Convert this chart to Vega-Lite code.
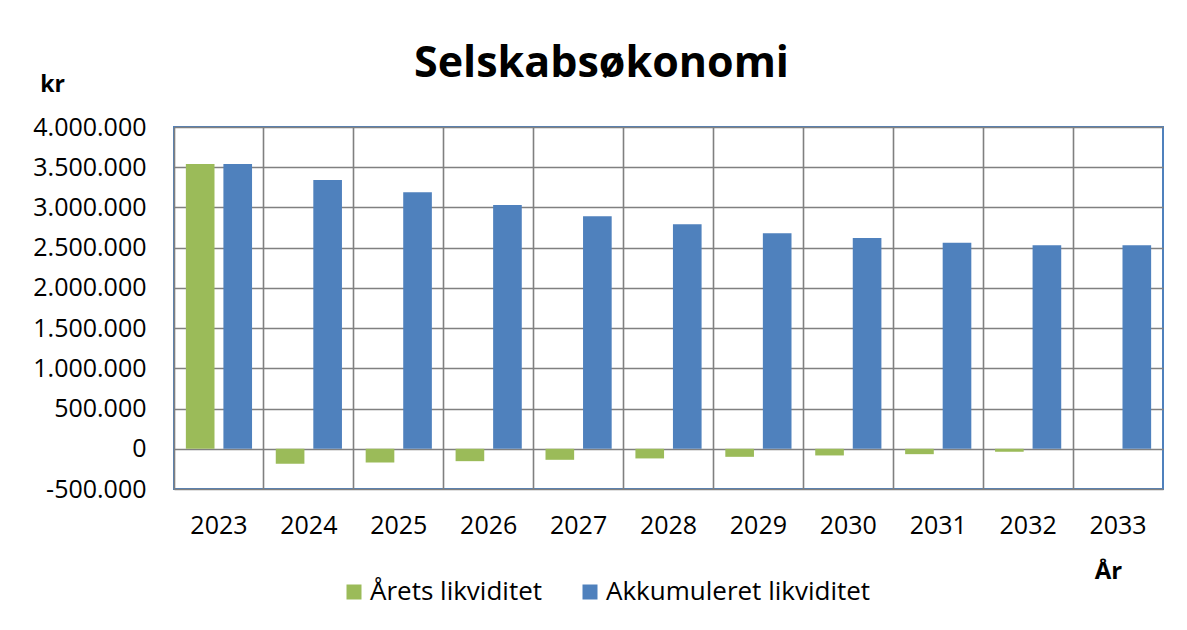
{
  "$schema": "https://vega.github.io/schema/vega-lite/v6.json",
  "autosize": "none",
  "width": 989,
  "height": 362,
  "padding": {"left": 174, "top": 127, "right": 24, "bottom": 141},
  "background": "white",
  "title": {
    "text": "Selskabsøkonomi",
    "font": "Open Sans",
    "fontSize": 43,
    "fontWeight": "bold",
    "color": "#000000",
    "anchor": "middle",
    "dx": -67,
    "dy": 47,
    "baseline": "alphabetic",
    "offset": 0
  },
  "data": {
    "values": [
      {"year": "2023", "series": "Årets likviditet", "value": 3540000},
      {"year": "2023", "series": "Akkumuleret likviditet", "value": 3540000},
      {"year": "2024", "series": "Årets likviditet", "value": -186000},
      {"year": "2024", "series": "Akkumuleret likviditet", "value": 3340000},
      {"year": "2025", "series": "Årets likviditet", "value": -170000},
      {"year": "2025", "series": "Akkumuleret likviditet", "value": 3190000},
      {"year": "2026", "series": "Årets likviditet", "value": -154000},
      {"year": "2026", "series": "Akkumuleret likviditet", "value": 3030000},
      {"year": "2027", "series": "Årets likviditet", "value": -137000},
      {"year": "2027", "series": "Akkumuleret likviditet", "value": 2890000},
      {"year": "2028", "series": "Årets likviditet", "value": -120000},
      {"year": "2028", "series": "Akkumuleret likviditet", "value": 2790000},
      {"year": "2029", "series": "Årets likviditet", "value": -100000},
      {"year": "2029", "series": "Akkumuleret likviditet", "value": 2680000},
      {"year": "2030", "series": "Årets likviditet", "value": -83000},
      {"year": "2030", "series": "Akkumuleret likviditet", "value": 2620000},
      {"year": "2031", "series": "Årets likviditet", "value": -67000},
      {"year": "2031", "series": "Akkumuleret likviditet", "value": 2560000},
      {"year": "2032", "series": "Årets likviditet", "value": -37000},
      {"year": "2032", "series": "Akkumuleret likviditet", "value": 2530000},
      {"year": "2033", "series": "Årets likviditet", "value": 0},
      {"year": "2033", "series": "Akkumuleret likviditet", "value": 2530000}
    ]
  },
  "mark": {"type": "bar"},
  "encoding": {
    "x": {
      "field": "year",
      "type": "ordinal",
      "scale": {"paddingInner": 0, "paddingOuter": 0},
      "axis": {
        "title": "År",
        "titleX": 934,
        "titleY": 89,
        "titleAlign": "center",
        "titleBaseline": "alphabetic",
        "titleFont": "Open Sans",
        "titleFontSize": 24,
        "titleFontWeight": "bold",
        "titleColor": "#000000",
        "labelAngle": 0,
        "labelFont": "Open Sans",
        "labelFontSize": 25,
        "labelColor": "#000000",
        "labelPadding": 24,
        "bandPosition": 0,
        "ticks": false,
        "domain": false,
        "grid": true,
        "gridColor": "#808080",
        "gridWidth": 1.6,
        "gridOpacity": 1
      }
    },
    "xOffset": {
      "field": "series",
      "type": "nominal",
      "scale": {"domain": ["Årets likviditet", "Akkumuleret likviditet"], "paddingInner": 0.237, "paddingOuter": 0.316}
    },
    "y": {
      "field": "value",
      "type": "quantitative",
      "scale": {"domain": [-500000, 4000000], "nice": false, "zero": false},
      "axis": {
        "title": "kr",
        "titleAngle": 0,
        "titleX": -122,
        "titleY": -36,
        "titleAlign": "center",
        "titleBaseline": "alphabetic",
        "titleFont": "Open Sans",
        "titleFontSize": 23,
        "titleFontWeight": "bold",
        "titleColor": "#000000",
        "values": [-500000, 0, 500000, 1000000, 1500000, 2000000, 2500000, 3000000, 3500000, 4000000],
        "labelExpr": "replace(replace(format(datum.value, ','), regexp(',', 'g'), '.'), '−', '-')",
        "labelFont": "Open Sans",
        "labelFontSize": 25,
        "labelColor": "#000000",
        "labelPadding": 28,
        "ticks": false,
        "domain": false,
        "grid": true,
        "gridColor": "#808080",
        "gridWidth": 1.6,
        "gridOpacity": 1
      }
    },
    "color": {
      "field": "series",
      "type": "nominal",
      "scale": {"domain": ["Årets likviditet", "Akkumuleret likviditet"], "range": ["#9BBB59", "#4F81BD"]},
      "legend": {
        "title": null,
        "orient": "none",
        "legendX": 167,
        "legendY": 452,
        "direction": "horizontal",
        "symbolType": "square",
        "symbolSize": 225,
        "symbolStrokeWidth": 0,
        "labelFont": "Open Sans",
        "labelFontSize": 26,
        "labelColor": "#000000",
        "labelOffset": 3,
        "labelLimit": 0,
        "columnPadding": 34,
        "padding": 0
      }
    }
  },
  "config": {
    "view": {"stroke": "#4F81BD", "strokeWidth": 2}
  }
}
